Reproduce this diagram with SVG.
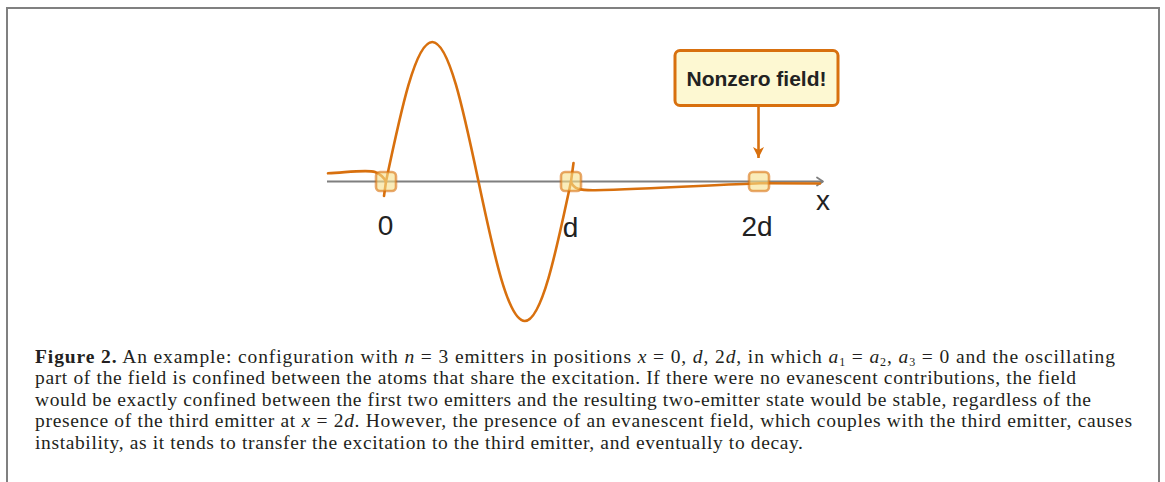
<svg xmlns="http://www.w3.org/2000/svg" width="1165" height="482" viewBox="0 0 1165 482">
<style>
.frame{fill:none;stroke:#808080;stroke-width:2}
.axis{fill:none;stroke:#7f7f7f;stroke-width:2}
.field{fill:none;stroke:#d8700e;stroke-width:2.6;stroke-linecap:round;stroke-linejoin:round}
.atom{fill:#f7e08a;fill-opacity:0.6;stroke:#d8700e;stroke-opacity:0.6;stroke-width:2.6}
.lbl{font-family:"Liberation Sans",Arial,sans-serif;font-size:28px;fill:#222;text-anchor:middle}
.box{fill:#fdf8d2;stroke:#d8700e;stroke-width:3}
.boxt{font-family:"Liberation Sans",Arial,sans-serif;font-size:21px;font-weight:bold;fill:#222;text-anchor:middle}
.cap{font-family:"Liberation Serif","Times New Roman",serif;font-size:19.5px;fill:#231f20}
.it{font-style:italic}
.sb{font-size:12px}
</style>
<defs>
<marker id="axhead" markerWidth="12" markerHeight="12" refX="9" refY="6" orient="auto" markerUnits="userSpaceOnUse">
<path d="M3,2 L9,6 L3,10" fill="none" stroke="#7f7f7f" stroke-width="1.8" stroke-linecap="round" stroke-linejoin="round"/>
</marker>
<marker id="ohead" markerWidth="14" markerHeight="14" refX="12" refY="7" orient="auto" markerUnits="userSpaceOnUse">
<path d="M1,1.5 L12,7 L1,12.5 L4,7 Z" fill="#d8700e"/>
</marker>
</defs>
<path class="frame" d="M7,482 V8 H1159 V482"/>
<g id="connectors">
<line id="x-axis" class="axis" x1="327" y1="181.5" x2="823" y2="181.5" marker-end="url(#axhead)"/>
<path id="field-left" class="field" d="M328,173.3 C350,172 368,169.5 375,172 C380,174 384,177 386,182"/>
<path id="field-mid" class="field" d="M384,196 L386,181.5 C401.08,110.03 415.51,42 432.25,42 C448.99,42 463.42,110.03 478.5,181.5 C493.58,252.97 508.01,321 524.75,321 C541.49,321 555.92,252.97 571,181.5 L573.5,163"/>
<path id="field-right" class="field" d="M571,182 C574,189 579,190.5 595,190.3 C650,189 720,184.5 760,183.2 L820,183.5"/>
<line id="callout-arrow" x1="758.5" y1="106" x2="758.5" y2="158" stroke="#d8700e" stroke-width="2.6" marker-end="url(#ohead)"/>
</g>
<g id="atom1"><rect class="atom" x="376" y="172" width="20" height="19" rx="4"/><text class="lbl" x="385.5" y="235">0</text></g>
<g id="atom2"><rect class="atom" x="561" y="172" width="20" height="19" rx="4"/><text class="lbl" x="570.5" y="237">d</text></g>
<g id="atom3"><rect class="atom" x="749" y="172" width="20" height="19" rx="4"/><text class="lbl" x="757" y="236">2d</text></g>
<g id="axis-label"><text class="lbl" x="823" y="210">x</text></g>
<g id="callout"><rect class="box" x="675" y="50.5" width="163" height="55" rx="5"/><text class="boxt" x="756.5" y="86">Nonzero field!</text></g>
<g id="caption">
<text class="cap" x="35" y="362.5" textLength="1080" lengthAdjust="spacing"><tspan font-weight="bold">Figure 2.</tspan>   An example: configuration with <tspan class="it">n</tspan> = 3 emitters in positions <tspan class="it">x</tspan> = 0, <tspan class="it">d</tspan>, 2<tspan class="it">d</tspan>, in which <tspan class="it">a</tspan><tspan class="sb" dy="3">1</tspan><tspan dy="-3"> = </tspan><tspan class="it">a</tspan><tspan class="sb" dy="3">2</tspan><tspan dy="-3">, </tspan><tspan class="it">a</tspan><tspan class="sb" dy="3">3</tspan><tspan dy="-3"> = 0 and the oscillating</tspan></text>
<text class="cap" x="35" y="384" textLength="1041" lengthAdjust="spacing">part of the field is confined between the atoms that share the excitation. If there were no evanescent contributions, the field</text>
<text class="cap" x="35" y="405.5" textLength="1056" lengthAdjust="spacing">would be exactly confined between the first two emitters and the resulting two-emitter state would be stable, regardless of the</text>
<text class="cap" x="35" y="427" textLength="1097" lengthAdjust="spacing">presence of the third emitter at <tspan class="it">x</tspan> = 2<tspan class="it">d</tspan>. However, the presence of an evanescent field, which couples with the third emitter, causes</text>
<text class="cap" x="35" y="448.5" textLength="768" lengthAdjust="spacing">instability, as it tends to transfer the excitation to the third emitter, and eventually to decay.</text>
</g>
</svg>
